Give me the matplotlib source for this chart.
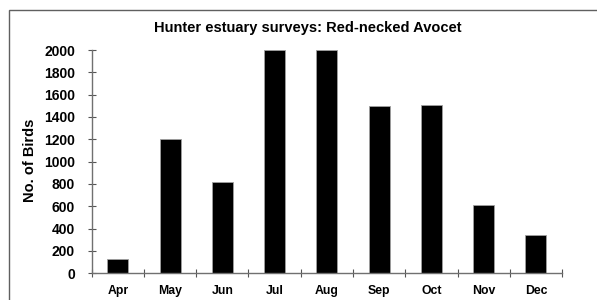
import matplotlib
matplotlib.use("Agg")
import matplotlib.pyplot as plt
import matplotlib.patches as mpatches
import numpy as np

months = ["Apr", "May", "Jun", "Jul", "Aug", "Sep", "Oct", "Nov", "Dec"]
birds = [125, 1200, 815, 2000, 2000, 1500, 1510, 610, 345]
yticks = [0, 200, 400, 600, 800, 1000, 1200, 1400, 1600, 1800, 2000]

plt.rcParams['font.family'] = ['Liberation Sans', 'DejaVu Sans']

fig = plt.figure(figsize=(5.97, 3.0), dpi=100)
ax = fig.add_axes([0.1536, 0.089, 0.7878, 0.7443])

x = np.arange(len(months))
ax.bar(x, birds, width=0.4, color="black", edgecolor="#a0a0a0", linewidth=0.6)

ax.set_xlim(-0.5, len(months) - 0.5)
ax.set_ylim(0, 2000)
ax.set_yticks(yticks)
ax.set_yticklabels([str(v) for v in yticks], fontsize=10, fontweight="bold")
ax.set_xticks(np.arange(-0.5, len(months), 1.0))
ax.set_xticklabels([])
ax.set_xticks(x, minor=True)
ax.set_xticklabels(months, minor=True, fontsize=8.8, fontweight="bold")
ax.tick_params(axis="x", which="minor", length=0, pad=8.5)
ax.tick_params(axis="x", which="major", direction="inout", length=6, width=0.8, color="#555555")
ax.tick_params(axis="y", direction="inout", length=6, width=0.8, color="#555555", pad=9)

for s in ["top", "right"]:
    ax.spines[s].set_visible(False)
for s in ["left", "bottom"]:
    ax.spines[s].set_color("#707070")
    ax.spines[s].set_linewidth(1.0)

ax.set_ylabel("No. of Birds", fontsize=10.5, fontweight="bold")
ax.yaxis.set_label_coords((37 - 91.7) / 470.3, (273.3 - 160) / 223.3)
fig.text(0.516, 0.907, "Hunter estuary surveys: Red-necked Avocet", ha="center", va="center",
         fontsize=10.5, fontweight="bold")

rect = mpatches.Rectangle((0.015, -0.2), 1.2, 1.1667, transform=fig.transFigure,
                          fill=False, edgecolor="#606060", linewidth=1.0, clip_on=False)
fig.patches.append(rect)

fig.savefig("out.png", dpi=100)
